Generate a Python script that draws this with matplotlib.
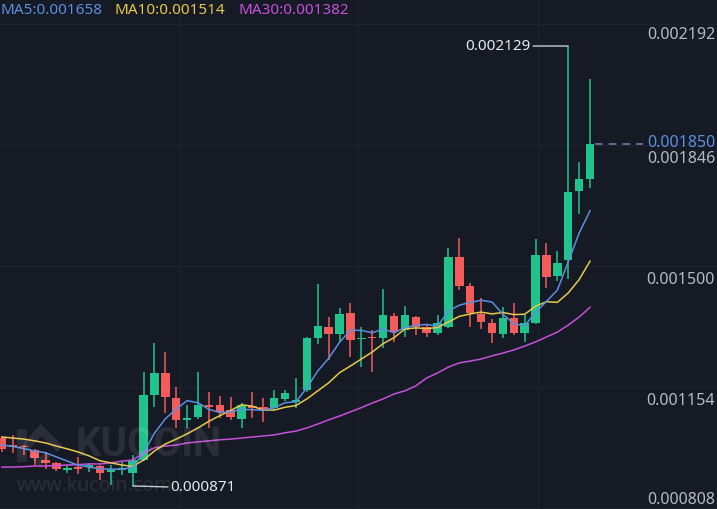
import numpy as np
import matplotlib
matplotlib.use("Agg")
import matplotlib.pyplot as plt

W, H = 717, 509
plt.rcParams['font.family'] = ['Noto Sans', 'DejaVu Sans']

# candle prices in millionths (value * 1e-6)
opens = [1008, 988, 985, 974, 945, 937, 917, 925, 925, 928, 911, 917, 908,
         945, 1131, 1194, 1123, 1060, 1068, 1100, 1102, 1088, 1063, 1097, 1097,
         1094, 1120, 1111, 1145, 1294, 1326, 1306, 1366, 1291, 1296, 1294, 1357,
         1317, 1354, 1326, 1308, 1326, 1526, 1443, 1363, 1337, 1306, 1351, 1308,
         1337, 1531, 1471, 1517, 1714, 1749]
highs = [1014, 1017, 988, 977, 968, 940, 931, 954, 937, 931, 931, 940, 960,
         1197, 1280, 1254, 1154, 1102, 1197, 1140, 1128, 1125, 1108, 1140, 1123,
         1145, 1145, 1180, 1297, 1449, 1354, 1380, 1394, 1326, 1317, 1434, 1366,
         1386, 1357, 1331, 1360, 1551, 1580, 1451, 1409, 1348, 1383, 1394, 1360,
         1577, 1566, 1543, 2129, 1797, 2035]
lows = [968, 965, 960, 931, 920, 914, 908, 905, 911, 888, 874, 902, 871,
        943, 1097, 1080, 1037, 1037, 1063, 1037, 1065, 1060, 1037, 1065, 1054,
        1088, 1114, 1094, 1140, 1277, 1231, 1283, 1240, 1211, 1197, 1266, 1283,
        1297, 1303, 1297, 1303, 1323, 1431, 1326, 1320, 1280, 1294, 1303, 1283,
        1334, 1437, 1457, 1463, 1649, 1723]
closes = [977, 982, 981, 951, 937, 920, 922, 920, 928, 908, 917, 922, 945,
          1131, 1194, 1125, 1060, 1065, 1102, 1097, 1083, 1068, 1102, 1094, 1088,
          1123, 1137, 1117, 1294, 1328, 1306, 1363, 1288, 1294, 1293, 1360, 1311,
          1360, 1326, 1308, 1337, 1526, 1443, 1366, 1340, 1308, 1351, 1308, 1337,
          1531, 1469, 1509, 1712, 1749, 1850]

ma5 = [988, 984, 978, 971, 966, 954, 942, 930, 925, 920, 919, 919, 924,
       965, 1022, 1063, 1091, 1115, 1109, 1090, 1081, 1083, 1090, 1089, 1087,
       1095, 1109, 1112, 1152, 1200, 1236, 1282, 1316, 1316, 1309, 1320, 1309,
       1324, 1330, 1333, 1328, 1371, 1388, 1396, 1402, 1397, 1362, 1335, 1329,
       1367, 1399, 1431, 1512, 1594, 1658]
ma10 = [1011, 1008, 1005, 1000, 994, 985, 977, 968, 957, 943, 937, 931, 927,
        945, 971, 991, 1005, 1020, 1037, 1056, 1072, 1087, 1103, 1099, 1088,
        1088, 1096, 1101, 1120, 1143, 1166, 1195, 1214, 1234, 1254, 1278, 1295,
        1320, 1323, 1321, 1324, 1340, 1356, 1363, 1368, 1363, 1367, 1361, 1362,
        1385, 1398, 1396, 1423, 1461, 1514]
ma30 = [925, 925, 926, 928, 928, 929, 931, 932, 934, 934, 937, 942, 945,
        965, 980, 985, 988, 994, 997, 1000, 1003, 1005, 1008, 1011, 1014,
        1017, 1023, 1028, 1037, 1048, 1060, 1071, 1083, 1095, 1108, 1120, 1134,
        1143, 1157, 1180, 1194, 1211, 1223, 1228, 1234, 1243, 1251, 1260, 1271,
        1283, 1297, 1311, 1331, 1354, 1382]

price_ticks = [0.002192, 0.001846, 0.001500, 0.001154, 0.000808]
last_price = 0.001850
max_price = 0.002129
min_price = 0.000871

BG = '#161a25'
GRID = '#1e222d'
UP = '#20c38c'
DOWN = '#f45b5b'
C_MA5 = '#5b8fe0'
C_MA10 = '#e6c84a'
C_MA30 = '#c650d8'
LABEL = '#b4bac3'

o = np.array(opens) * 1e-6
h = np.array(highs) * 1e-6
l = np.array(lows) * 1e-6
c = np.array(closes) * 1e-6
x = np.arange(len(o))

fig = plt.figure(figsize=(W / 100, H / 100), dpi=100, facecolor=BG)
ax = fig.add_axes([0, 0, 1, 1], facecolor=BG)
ax.set_xlim(-0.184, 65.66)
ax.set_ylim(0.0008051, 0.0022606)
ax.axis('off')

# grid
for v in price_ticks:
    ax.axhline(v, color=GRID, lw=1, zorder=0)
for gx in [16.35, 32.7, 49.2]:
    ax.axvline(gx, color=GRID, lw=1, zorder=0)

# watermark (drawn in pixel terms)
wm = (1, 1, 1, 0.09)
fig.text(75 / W, 1 - 445 / H, 'KUCOIN', fontsize=29, fontweight='bold',
         family='Roboto', color=wm, va='center', ha='left', zorder=1)
fig.text(17 / W, 1 - 486 / H, 'www.kucoin.com', fontsize=14, color=wm,
         va='center', ha='left', zorder=1)
fx = lambda px: px / W
fy = lambda py: 1 - py / H
logo = [([22, 22], [429, 462], 7), ([26, 41, 60], [447, 430, 449], 6),
        ([32, 40, 48], [454, 462, 454], 5)]
for xs, ys, w in logo:
    fig.add_artist(plt.Line2D([fx(v) for v in xs], [fy(v) for v in ys],
                              color=wm, lw=w, solid_capstyle='butt',
                              solid_joinstyle='miter', zorder=1))

# candles
up = c >= o
colors = np.where(up, UP, DOWN)
body_low = np.minimum(o, c)
body_h = np.maximum(np.abs(c - o), 4.5e-6)
ax.vlines(x, l, h, colors=colors, lw=1.1, zorder=2)
ax.bar(x, body_h, bottom=body_low, width=0.78, color=colors, linewidth=0, zorder=2)

# moving averages
ax.plot(x, np.array(ma30) * 1e-6, color=C_MA30, lw=1.1, zorder=3)
ax.plot(x, np.array(ma10) * 1e-6, color=C_MA10, lw=1.1, zorder=3)
ax.plot(x, np.array(ma5) * 1e-6, color=C_MA5, lw=1.1, zorder=3)

# current price line
ax.hlines(last_price, x[-1] + 0.5, 58.9, colors='#6b86b3', lw=1.1,
          linestyles=(0, (5, 4)), zorder=3)

# high / low markers
ax.annotate(f'{max_price:.6f}', xy=(x[52], max_price), xytext=(-38, 0),
            textcoords='offset pixels', ha='right', va='center',
            fontsize=11, color='#e6e8eb',
            arrowprops=dict(arrowstyle='-', color='#c8ccd2', lw=1,
                            shrinkA=0, shrinkB=0))
ax.annotate(f'{min_price:.6f}', xy=(x[12], min_price), xytext=(38, -2),
            textcoords='offset pixels', ha='left', va='center',
            fontsize=11, color='#e6e8eb',
            arrowprops=dict(arrowstyle='-', color='#c8ccd2', lw=1,
                            shrinkA=0, shrinkB=0))

# price axis labels
offsets = {0.002192: -11, 0.001846: -14, 0.001500: -14, 0.001154: -14,
           0.000808: 8}
for v in price_ticks:
    ax.annotate(f'{v:.6f}', xy=(1, v), xycoords=('axes fraction', 'data'),
                xytext=(-2, offsets[v]), textcoords='offset pixels',
                ha='right', va='center', fontsize=11.5, color=LABEL)
ax.annotate(f'{last_price:.6f}', xy=(1, last_price),
            xycoords=('axes fraction', 'data'), xytext=(-2, 1),
            textcoords='offset pixels', ha='right', va='center',
            fontsize=11.5, color=C_MA5)

# MA legend
legend = [('MA5', ma5[-1], C_MA5, 0), ('MA10', ma10[-1], C_MA10, 114),
          ('MA30', ma30[-1], C_MA30, 238)]
for name, val, col, px in legend:
    fig.text((px + 1) / W, 1 - 11 / H, f'{name}:{val * 1e-6:.6f}',
             fontsize=11, color=col, va='center', ha='left')

fig.savefig('out.png', dpi=100, facecolor=BG)
